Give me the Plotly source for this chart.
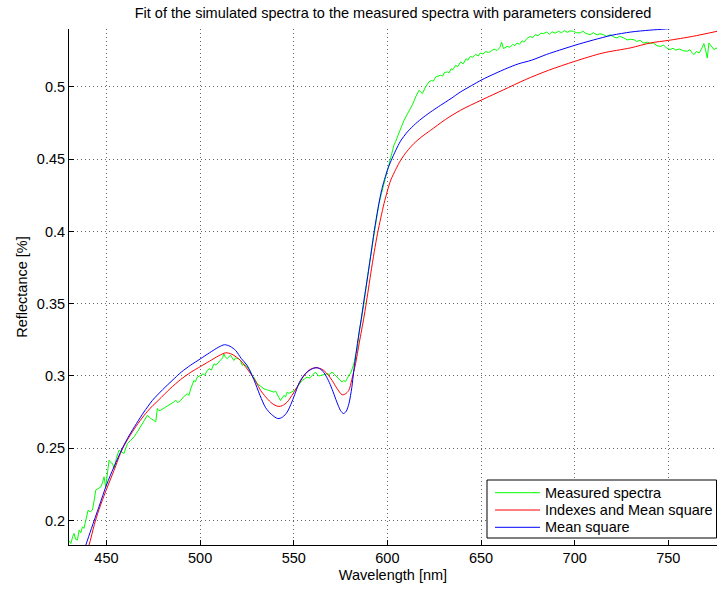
import plotly.graph_objects as go

# ---------------- data ----------------
green_wl = [430, 431, 432, 432.7, 433.5, 434.5, 435.4, 436.3, 437.2, 438, 439, 440.2, 441.3, 442.5,
            443.4, 444.3, 445.5, 447, 448, 448.7, 449.6, 450.5, 451.4, 452.3, 453.2, 454.1, 455.3,
            456.7, 458, 459.4, 460.3, 461.2, 463, 464.7, 466.5, 467.8, 469.2, 470.5, 471.9, 472.8,
            473.6, 475, 476.3, 477.2, 478, 479, 480.5, 482.5, 484, 486, 487, 488,
            489.6, 491.5, 493.2, 494, 495, 496, 496.7, 497.5, 498.5, 500.3, 501.5, 502.5, 503.8,
            505, 506, 507.4, 508.5, 510, 511, 512, 512.7, 513.5, 514.5, 515.4, 516.3, 517.2, 518,
            519, 520.7, 521.6, 522.5, 523.5, 525.2, 526.5, 527.8, 529, 530.5, 532, 534.1, 535.5,
            536.7, 538, 539.4, 540.3, 541.2, 542.1, 542.9, 543.8, 544.7, 545.6, 546.5, 547.5,
            549.1, 550.5, 551.8, 553, 554.5, 555.8, 557.1, 558.5, 559.8, 560.7, 561.6, 562.5,
            563.4, 564.3, 566, 567.8, 569, 570.5, 571.8, 573.1, 574.5, 575.8, 576.7, 577.6, 578.5,
            579.6, 580.3, 581.2, 582.1, 583.1, 583.8, 585, 587.5, 589.5, 591.9, 593.5, 595.5, 597,
            598.2, 600, 601.8, 603.5, 604.5, 606.2, 607.5, 608.9, 610.5, 612.4, 613.5, 615.1,
            616.9, 617.8, 618.7, 620.4, 622.2, 623.5, 624.5, 625.8, 627, 628.4, 629.5, 630.5, 632,
            633, 634, 635, 636.5, 637.5, 639.1, 640.5, 642, 643, 644.3, 645.5, 647, 648.5, 649.6,
            651, 652.5, 654, 655.5, 657, 658.5, 660, 661, 662, 663.9, 665.5, 667, 668, 669.2,
            670.5, 672, 673, 674.5, 676.3, 677.5, 679, 680.5, 682, 683.4, 685, 686.5, 688, 689.5,
            691.4, 693, 694.5, 696, 697.5, 699.4, 701, 703, 704.5, 706, 708.3, 710, 712, 713.5,
            715.4, 717, 719.2, 720.5, 722.5, 724, 726.3, 728, 729.7, 731.7, 733, 735, 736.8, 738.8,
            740.5, 742, 743.9, 745.9, 747.5, 749, 751, 752.5, 754, 756, 758.1, 760.1, 761.5, 762.5,
            763.7, 765, 766.5, 768, 769, 770, 770.8, 771.7, 772.8, 774.4, 775.5, 776]
green_r = [0.186, 0.184, 0.189, 0.191, 0.187, 0.1864, 0.1933, 0.1915, 0.1956, 0.1945, 0.2002, 0.2071,
           0.2060, 0.2071, 0.2135, 0.2210, 0.2220, 0.2232, 0.2265, 0.2302, 0.2232, 0.2350, 0.2417,
           0.2400, 0.2394, 0.2360, 0.2430, 0.2486, 0.2475, 0.2463, 0.2500, 0.2532, 0.2555, 0.2578,
           0.2613, 0.2640, 0.2671, 0.2700, 0.2728, 0.2715, 0.2705, 0.2695, 0.2682, 0.2775, 0.2760,
           0.2763, 0.2775, 0.2786, 0.2800, 0.2820, 0.2832, 0.2815,
           0.2830, 0.2860, 0.2877, 0.2865, 0.2911, 0.2950, 0.2969, 0.2960, 0.2992, 0.3003, 0.3015,
           0.3005, 0.3038, 0.3050, 0.3040, 0.3084, 0.3075, 0.3096, 0.3110, 0.3125, 0.3153, 0.3130,
           0.3119, 0.3135, 0.3142, 0.3120, 0.3107, 0.3125, 0.3119, 0.3105, 0.3073, 0.3085, 0.3061,
           0.3040, 0.3003, 0.2985, 0.2946, 0.2930, 0.2911, 0.2905, 0.2900, 0.2890, 0.2888, 0.2895,
           0.2877, 0.2850, 0.2830, 0.2845, 0.2865, 0.2855, 0.2888, 0.2880, 0.2888, 0.2900, 0.2923,
           0.2945, 0.2969, 0.2980, 0.2992, 0.2985, 0.3003, 0.3015, 0.3027, 0.3010, 0.3000, 0.3003,
           0.3010, 0.3015, 0.3010, 0.3027, 0.3010, 0.2992, 0.2975, 0.2957, 0.2969, 0.2960, 0.2980,
           0.3010, 0.3015, 0.3050, 0.3084, 0.3150, 0.3176, 0.3310, 0.3500, 0.3700, 0.3893, 0.4040,
           0.4193, 0.4270, 0.4332, 0.4430, 0.4516, 0.4597, 0.4625, 0.4689, 0.4725, 0.4770, 0.4805,
           0.4851, 0.4880, 0.4931, 0.4977, 0.4965, 0.4954, 0.5000, 0.5035, 0.5045, 0.5040, 0.5069,
           0.5075, 0.5081, 0.5075, 0.5100, 0.5104, 0.5098, 0.5125, 0.5120, 0.5150, 0.5140, 0.5173,
           0.5160, 0.5195, 0.5185, 0.5212, 0.5205, 0.5225, 0.5215, 0.5235, 0.5228, 0.5245, 0.5238,
           0.5250, 0.5262, 0.5252, 0.5272, 0.5310, 0.5265, 0.5280, 0.5275, 0.5295, 0.5285, 0.5304,
           0.5295, 0.5320, 0.5310, 0.5335, 0.5350, 0.5340, 0.5362, 0.5355, 0.5372, 0.5369, 0.5380,
           0.5365, 0.5382, 0.5372, 0.5385, 0.5375, 0.5390, 0.5378, 0.5388, 0.5385, 0.5375, 0.5374,
           0.5385, 0.5370, 0.5362, 0.5375, 0.5360, 0.5368, 0.5362, 0.5350, 0.5362, 0.5348, 0.5339,
           0.5350, 0.5339, 0.5325, 0.5330, 0.5327, 0.5315, 0.5322, 0.5304, 0.5310, 0.5300, 0.5305,
           0.5285, 0.5280, 0.5290, 0.5270, 0.5258, 0.5268, 0.5255, 0.5262, 0.5250, 0.5247, 0.5258,
           0.5240, 0.5224, 0.5245, 0.5235, 0.5270, 0.5300, 0.5250, 0.5200, 0.5304, 0.5285, 0.5258,
           0.5270, 0.5265]

red_wl = [437, 440.7, 443.5, 446, 450, 454, 458.5, 462, 466, 470, 474, 478, 484, 489.6, 495, 500.3,
          505, 510, 513.6, 517, 521.6, 524, 527, 530, 532.3, 535, 537.6, 540, 542, 544, 546.5, 549,
          551.8, 554.5, 557.1, 559.5, 561.6, 564, 566, 568.5, 570.5, 573, 575.8, 577.5, 579.4, 581,
          583, 585, 587.5, 589.5, 591.1, 593, 594.7, 596.5, 598.2, 600, 601.8, 604.5, 607.1, 610.5,
          614.2, 618.5, 623.1, 631, 639.1, 650, 662, 673.6, 686, 700, 715, 729.7, 740.6, 750, 763,
          776]
red_r = [0.171, 0.183, 0.197, 0.2075, 0.2215, 0.2345, 0.2495, 0.2575, 0.2655, 0.2725, 0.2785, 0.2835,
         0.2912, 0.2975, 0.3025, 0.3066, 0.3102, 0.3140, 0.3160, 0.3150, 0.3107, 0.3068, 0.3015, 0.2955,
         0.2900, 0.2855, 0.2819, 0.2797, 0.2789, 0.2795, 0.2819, 0.2865, 0.2923, 0.2983, 0.3027,
         0.3050, 0.3057, 0.3052, 0.3038, 0.3005, 0.2969, 0.2915, 0.2870, 0.2875, 0.2900, 0.2975,
         0.3084, 0.3230, 0.3407, 0.3570, 0.3707, 0.3860, 0.3984, 0.4095, 0.4193, 0.4280, 0.4355,
         0.4430, 0.4493, 0.4555, 0.4609, 0.4657, 0.4700, 0.4775, 0.4839, 0.4908, 0.4980, 0.5050,
         0.5115, 0.5177, 0.5235, 0.5270, 0.5305, 0.5322, 0.5350, 0.5385]

blue_wl = [436, 439, 442, 446, 450, 454, 458.5, 462, 466, 470, 474.5, 480, 485, 490, 495, 500, 505,
           510, 513, 516, 519, 522, 525, 528.7, 532, 535, 538, 541.5, 544, 546.5, 549, 551, 553,
           555.5, 558, 560, 562.5, 565, 567, 569, 571, 573, 575, 576.5, 578, 579.5, 581, 582, 584,
           586, 587.5, 589.5, 591, 593, 595, 597, 600, 602, 604.5, 607, 610.7, 615, 619.5, 624,
           628.4, 634, 639, 645, 650.5, 657, 664, 670, 677, 685, 692, 700, 710, 720, 730, 740, 748.5,
           760, 776]
blue_r = [0.171, 0.183, 0.1945, 0.2095, 0.2245, 0.2370, 0.2500, 0.2585, 0.2670, 0.2750, 0.2830,
          0.2905, 0.2967, 0.3027, 0.3075, 0.3117, 0.3160, 0.3200, 0.3216, 0.3205, 0.3176, 0.3120,
          0.3075, 0.2975, 0.2865, 0.2780, 0.2735, 0.2705, 0.2715, 0.2750, 0.2820, 0.2888, 0.2955,
          0.3005, 0.3035, 0.3050, 0.3057, 0.3040, 0.3005, 0.2955, 0.2890, 0.2820, 0.2760, 0.2740,
          0.2755, 0.2810, 0.2920, 0.3030, 0.3225, 0.3390, 0.3525, 0.3690, 0.3824, 0.4005, 0.4160,
          0.4290, 0.4424, 0.4490, 0.4562, 0.4625, 0.4689, 0.4745, 0.4793, 0.4835, 0.4873, 0.4920,
          0.4965, 0.5010, 0.5050, 0.5090, 0.5130, 0.5160, 0.5185, 0.5225, 0.5255, 0.5288, 0.5325,
          0.5358, 0.5380, 0.5393, 0.5401, 0.5415, 0.5430]

x_ticks = [450, 500, 550, 600, 650, 700, 750]
y_ticks = [0.2, 0.25, 0.3, 0.35, 0.4, 0.45, 0.5]
y_tick_text = ["0.2", "0.25", "0.3", "0.35", "0.4", "0.45", "0.5"]

title_text = "Fit of the simulated spectra to the measured spectra with parameters considered"
names = ["Measured spectra", "Indexes and Mean square", "Mean square"]
colors = ["#00ff00", "#ff0000", "#0000ff"]

# ---------------- figure ----------------
FONT = "Liberation Sans, Arial, Helvetica, sans-serif"
FS = 14.5
W, H = 717, 590
ML, MR, MT, MB = 69, 0, 29, 45
PW, PH = W - ML - MR, H - MT - MB


def px_to_paper(px, py):
    return (px - ML) / PW, (H - MB - py) / PH


fig = go.Figure()
fig.add_trace(go.Scatter(x=green_wl, y=green_r, mode="lines", name=names[0],
                         line=dict(color=colors[0], width=1)))
fig.add_trace(go.Scatter(x=red_wl, y=red_r, mode="lines", name=names[1],
                         line=dict(color=colors[1], width=1, shape="spline", smoothing=0.8)))
fig.add_trace(go.Scatter(x=blue_wl, y=blue_r, mode="lines", name=names[2],
                         line=dict(color=colors[2], width=1, shape="spline", smoothing=0.8)))

axis_common = dict(
    showline=True, linecolor="black", linewidth=1, mirror=False, automargin=False,
    ticks="inside", ticklen=5, tickcolor="black", tickwidth=1,
    showgrid=True, gridcolor="rgba(0,0,0,0.6)", gridwidth=1, griddash="1px,3px",
    zeroline=False, tickfont=dict(family=FONT, size=FS, color="black"),
)

# MATLAB-style legend box (tight rows) drawn in the lower-right corner
shapes = []
annotations = []
bx0, by1 = px_to_paper(487, 480)
bx1, by0 = px_to_paper(716.5, 538)
shapes.append(dict(type="rect", xref="paper", yref="paper", x0=bx0, x1=bx1, y0=by0, y1=by1,
                   fillcolor="white", line=dict(color="black", width=1), layer="above"))
for i, (nm, col) in enumerate(zip(names, colors)):
    row_y = 492.7 + i * 17.3
    lx0, ly = px_to_paper(495, row_y)
    lx1, _ = px_to_paper(540, row_y)
    shapes.append(dict(type="line", xref="paper", yref="paper", x0=lx0, x1=lx1, y0=ly, y1=ly,
                       line=dict(color=col, width=1), layer="above"))
    tx, _ = px_to_paper(543, row_y)
    annotations.append(dict(text=nm, xref="paper", yref="paper", x=tx, y=ly, xanchor="left",
                            yanchor="middle", showarrow=False,
                            font=dict(family=FONT, size=FS, color="black")))

fig.update_layout(
    width=W, height=H,
    margin=dict(l=ML, r=MR, t=MT, b=MB),
    paper_bgcolor="white", plot_bgcolor="white",
    font=dict(family=FONT, size=FS, color="black"),
    title=dict(text=title_text, x=(ML + W) / 2 / W, xanchor="center",
               y=1 - 12.5 / H, yanchor="middle", font=dict(family=FONT, size=FS, color="black")),
    xaxis=dict(range=[430, 776], tickvals=x_ticks,
               title=dict(text="Wavelength [nm]", standoff=4, font=dict(family=FONT, size=FS)),
               **axis_common),
    yaxis=dict(range=[0.183, 0.5401], tickvals=y_ticks, ticktext=y_tick_text,
               title=dict(text="Reflectance [%]", standoff=5, font=dict(family=FONT, size=FS)),
               **axis_common),
    shapes=shapes,
    annotations=annotations,
    showlegend=False,
    hovermode=False,
)

fig.write_html("out.html", config={"displayModeBar": False},
               post_script="document.body.style.margin='0';")
